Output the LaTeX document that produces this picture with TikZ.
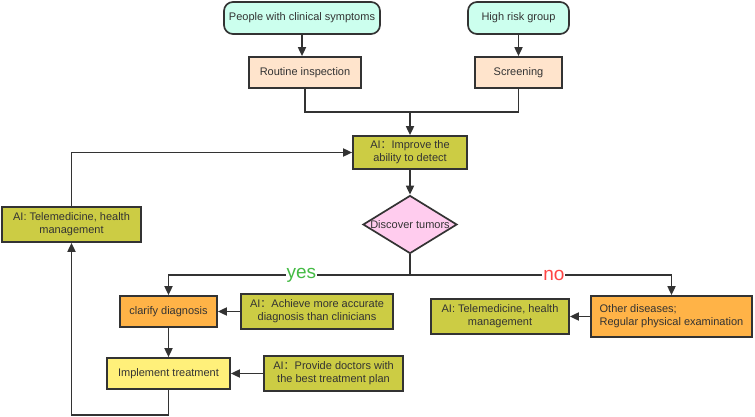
\documentclass[tikz,border=0pt]{standalone}
\usepackage{fontspec}
\setmainfont{Liberation Sans}
\newfontfamily\cjk{Noto Sans CJK SC}
\usetikzlibrary{arrows.meta, positioning, shapes.geometric}
\definecolor{mintfill}{HTML}{CCFFEE}
\definecolor{peachfill}{HTML}{FFE4CC}
\definecolor{olivefill}{HTML}{CCCC44}
\definecolor{pinkfill}{HTML}{FFCCEE}
\definecolor{orangefill}{HTML}{FFB347}
\definecolor{yellowfill}{HTML}{FFF07A}
\definecolor{linegray}{HTML}{333333}
\definecolor{yesgreen}{HTML}{44BB44}
\definecolor{nored}{HTML}{FF4444}
\newcommand{\fc}{{\cjk ：}}

\begin{document}
\begin{tikzpicture}[x=1pt, y=-1pt, font=\fontsize{11}{13}\selectfont, text=linegray,
    box/.style={draw=linegray, line width=1.7pt, rectangle, inner sep=0pt, align=center},
    terminal/.style={box, rounded corners=9pt, fill=mintfill},
    proc/.style={box, fill=peachfill},
    aibox/.style={box, fill=olivefill},
    decision/.style={draw=linegray, line width=1.7pt, diamond, fill=pinkfill, inner sep=0pt, minimum width=94pt, minimum height=58pt},
    arr/.style={draw=linegray, line width=1.7pt, -{Triangle[length=9pt, width=8pt]}},
    ln/.style={draw=linegray, line width=1.7pt}]
    \useasboundingbox (0,0) rectangle (755,417);
    % 起点
    \node[terminal, minimum width=156pt, minimum height=32pt] (symptom) at (302,18) {People with clinical symptoms};
    \node[terminal, minimum width=101pt, minimum height=32pt] (risk) at (518.5,18) {High risk group};
    % 检查
    \node[proc, minimum width=112pt, minimum height=31pt] (routine) at (305,72.5) {Routine inspection};
    \node[proc, minimum width=87pt, minimum height=31pt] (screen) at (518.5,72.5) {Screening};
    % AI 检测
    \node[aibox, minimum width=114pt, minimum height=33pt] (detect) at (410,152.5) {AI\fc Improve the\\ability to detect};
    \node[decision, label=center:{Discover tumors}] (tumor) at (410,224.5) {};
    \coordinate (split) at (410,275);
    % yes 分支
    \node[box, fill=orangefill, minimum width=97pt, minimum height=31pt] (clarify) at (168.5,311.5) {clarify diagnosis};
    \node[aibox, minimum width=152pt, minimum height=35pt] (accurate) at (317,311.5) {AI\fc Achieve more accurate\\diagnosis than clinicians};
    \node[box, fill=yellowfill, minimum width=123pt, minimum height=31pt] (treat) at (168.5,373.5) {Implement treatment};
    \node[aibox, minimum width=139pt, minimum height=35pt] (plan) at (333.5,373.5) {AI\fc Provide doctors with\\the best treatment plan};
    \node[aibox, minimum width=139pt, minimum height=35pt] (teleL) at (71.5,224.5) {AI: Telemedicine, health\\management};
    % no 分支
    \node[box, fill=orangefill, minimum width=161pt, minimum height=41pt, align=left] (other) at (671.5,316.5) {Other diseases;\\Regular physical examination};
    \node[aibox, minimum width=138pt, minimum height=35pt] (teleR) at (500,316.5) {AI: Telemedicine, health\\management};
    % 连线
    \draw[arr] (symptom) -- (symptom |- routine.north);
    \draw[arr] (risk) -- (risk |- screen.north);
    \draw[ln] (routine.south) |- (410,112) -| (screen.south);
    \draw[arr] (410,112) -- (detect.north);
    \draw[arr] (detect) -- (tumor.north);
    \draw[ln] (tumor.south) -- (split);
    \draw[arr] (split) -| node[pos=0.225, fill=white, inner sep=1pt, text=yesgreen, font=\fontsize{19}{19}\selectfont] {yes} (clarify.north);
    \draw[arr] (split) -| node[pos=0.275, fill=white, inner sep=1pt, text=nored, font=\fontsize{19}{19}\selectfont] {no} (other.north);
    \draw[arr] (accurate) -- (clarify);
    \draw[arr] (clarify) -- (treat);
    \draw[arr] (plan) -- (treat);
    \draw[arr] (other) -- (teleR);
    \draw[arr] (treat.south) -- ++(0,25) -| (teleL.south);
    \draw[arr] (teleL.north) |- (detect.west);
\end{tikzpicture}
\end{document}
